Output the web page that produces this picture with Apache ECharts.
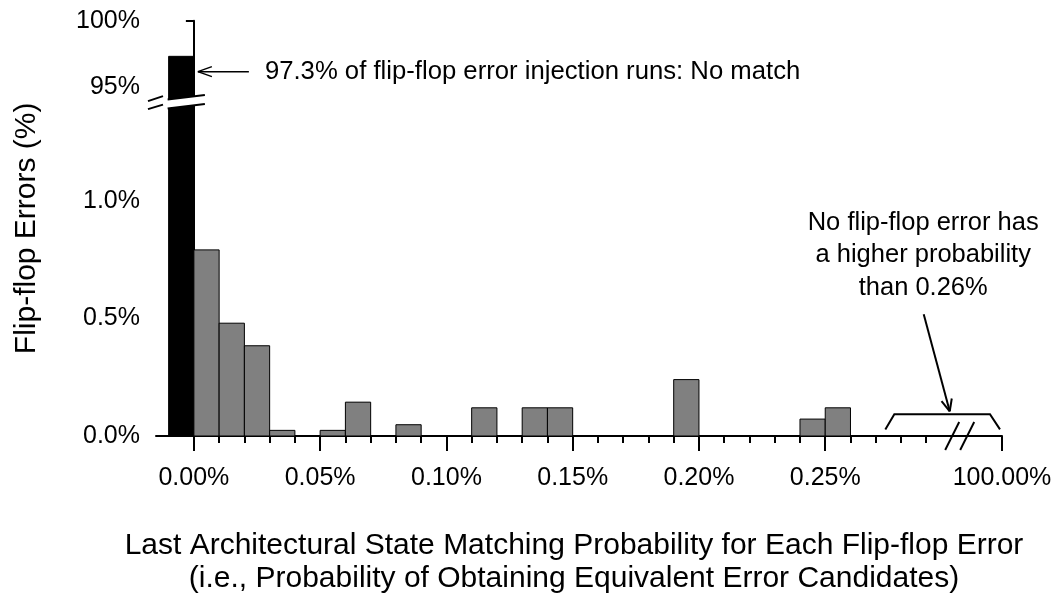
<!DOCTYPE html>
<html><head><meta charset="utf-8">
<script src="https://cdn.jsdelivr.net/npm/echarts@6/dist/echarts.min.js"></script>
<style>html,body{margin:0;padding:0;background:#fff}#c{width:1059px;height:598px}</style>
</head><body><div id="c"></div>
<script>
// ---- data ----
const binWidth = 0.01;                 // each bar covers 0.01 percentage points
const noMatchBins = [-0.01];           // the "No match" bar sits left of 0.00%
const noMatchValues = [97.3];
const binStarts = [0.00,0.01,0.02,0.03,0.04,0.05,0.06,0.07,0.08,0.09,0.10,0.11,0.12,
                   0.13,0.14,0.15,0.16,0.17,0.18,0.19,0.20,0.21,0.22,0.23,0.24,0.25];
const binValues = [0.792,0.48,0.384,0.024,0,0.024,0.144,0,0.048,0,0,0.12,0,
                   0.12,0.12,0,0,0,0,0.24,0,0,0,0,0.072,0.12];
const xMajorTicks  = [0.00,0.05,0.10,0.15,0.20,0.25,0.32];
const xMajorLabels = ['0.00%','0.05%','0.10%','0.15%','0.20%','0.25%','100.00%'];
const xMinorTicks  = [0.00,0.01,0.02,0.03,0.04,0.05,0.06,0.07,0.08,0.09,0.10,0.11,0.12,0.13,0.14,
                      0.15,0.16,0.17,0.18,0.19,0.20,0.21,0.22,0.23,0.24,0.25,0.26,0.27,0.28,0.29];
const yLowTicks  = [0, 0.5, 1.0];
const yLowLabels = ['0.0%','0.5%','1.0%'];
const yHighTicks  = [95, 100];
const yHighLabels = ['95%','100%'];

const FONT = '"Liberation Sans", Arial, Helvetica, sans-serif';
const X_MIN = -0.015, X_MAX = 0.32;

function lookup(ticks, labels, v) {
  for (let i = 0; i < ticks.length; i++) if (Math.abs(ticks[i] - v) < 1e-6) return labels[i];
  return '';
}
function makeRender(fill) {
  return function (params, api) {
    const x0 = api.value(0), v = api.value(1);
    if (!v) return null;
    const p0 = api.coord([x0, 0]);
    const p1 = api.coord([x0 + binWidth, v]);
    const cs = params.coordSys;
    const r = echarts.graphic.clipRectByRect(
      {x: p0[0], y: p1[1], width: p1[0] - p0[0], height: p0[1] - p1[1]},
      {x: cs.x, y: cs.y, width: cs.width, height: cs.height});
    if (!r) return null;
    return {type: 'rect', shape: r, style: {fill: fill, stroke: '#000', lineWidth: 1}};
  };
}
const noMatchData = noMatchBins.map((b, i) => [b, noMatchValues[i]]);
const binData = binStarts.map((b, i) => [b, binValues[i]]);

const axisLineStyle = {color: '#000', width: 2};
const labelStyle = {color: '#000', fontSize: 25, fontFamily: FONT};

const option = {
  animation: false,
  backgroundColor: '#fff',
  grid: [
    {left: 156, right: 57, top: 20.7, height: 79.2},
    {left: 156, right: 57, top: 436 - 1.42 * 235, height: 1.42 * 235}
  ],
  xAxis: [
    {type: 'value', gridIndex: 0, min: X_MIN, max: X_MAX, show: false},
    {type: 'value', gridIndex: 1, min: X_MIN, max: X_MAX,
     axisLine: {show: true, onZero: false, lineStyle: axisLineStyle},
     axisTick: {show: true, length: 7, customValues: xMinorTicks, lineStyle: {color: '#000', width: 2}},
     axisLabel: {show: false}, splitLine: {show: false}},
    {type: 'value', gridIndex: 1, min: X_MIN, max: X_MAX, position: 'bottom',
     axisLine: {show: false},
     axisTick: {show: true, length: 15, customValues: xMajorTicks, lineStyle: {color: '#000', width: 2}},
     axisLabel: Object.assign({show: true, margin: 30, customValues: xMajorTicks,
       formatter: v => lookup(xMajorTicks, xMajorLabels, v)}, labelStyle),
     splitLine: {show: false}}
  ],
  yAxis: [
    {type: 'value', gridIndex: 0, min: 94, max: 100,
     axisLine: {show: true, lineStyle: axisLineStyle},
     axisTick: {show: true, length: 8, customValues: yHighTicks, lineStyle: {color: '#000', width: 2}},
     axisLabel: Object.assign({margin: 16, customValues: yHighTicks,
       formatter: v => lookup(yHighTicks, yHighLabels, v)}, labelStyle),
     splitLine: {show: false}},
    {type: 'value', gridIndex: 1, min: 0, max: 1.42,
     axisLine: {show: true, lineStyle: axisLineStyle},
     axisTick: {show: true, length: 8, customValues: yLowTicks, lineStyle: {color: '#000', width: 2}},
     axisLabel: Object.assign({margin: 16, customValues: yLowTicks,
       formatter: v => lookup(yLowTicks, yLowLabels, v)}, labelStyle),
     splitLine: {show: false}}
  ],
  series: [
    {type: 'custom', xAxisIndex: 0, yAxisIndex: 0, data: noMatchData, renderItem: makeRender('#000'), z: 1},
    {type: 'custom', xAxisIndex: 1, yAxisIndex: 1, data: noMatchData, renderItem: makeRender('#000'), z: 1},
    {type: 'custom', xAxisIndex: 1, yAxisIndex: 1, data: binData, renderItem: makeRender('#808080'), z: 1}
  ]
};

const chart = echarts.init(document.getElementById('c'), null, {renderer: 'canvas'});
chart.setOption(option);

// ---- annotations, anchored to the axes ----
const P = (g, x, y) => chart.convertToPixel({gridIndex: g}, [x, y]);
const axisX = P(1, X_MIN, 0)[0];
const yRef = (P(0, 0, 94)[1] + P(1, 0, 1.42)[1]) / 2;
const barL = P(1, noMatchBins[0], 0)[0];
const barR = P(1, noMatchBins[0] + binWidth, 0)[0];
const black = {stroke: '#000', lineWidth: 2, fill: null};
const g = [];
function line(x1, y1, x2, y2, w) {
  g.push({type: 'line', shape: {x1, y1, x2, y2}, style: {stroke: '#000', lineWidth: w || 2}, z: 100});
}
// y-axis break
const aU = [[axisX - 8, yRef], [axisX + 7, yRef - 5]];
const aD = [[axisX - 8, yRef + 8], [axisX + 7, yRef + 3.5]];
const bU = [[barL - 1, yRef - 1.7], [barR + 11, yRef - 6]];
const bD = [[barL - 1, yRef + 7.3], [barR + 11, yRef + 3]];
g.push({type: 'polygon', shape: {points: [aU[0], aU[1], aD[1], aD[0]]}, style: {fill: '#fff'}, z: 99});
g.push({type: 'polygon', shape: {points: [bU[0], bU[1], bD[1], bD[0]]}, style: {fill: '#fff'}, z: 99});
[aU, aD, bU, bD].forEach(s => line(s[0][0], s[0][1], s[1][0], s[1][1], 2));

// arrow to the No-match bar
const ay = P(0, 0, 96.14)[1];
const tipX = barR + 4;
line(tipX, ay, tipX + 51, ay, 1.5);
line(tipX, ay, tipX + 14, ay - 5, 1.5);
line(tipX, ay, tipX + 14, ay + 5, 1.5);
g.push({type: 'text', x: tipX + 67, y: ay, z: 100,
  style: {text: '97.3% of flip-flop error injection runs: No match', font: '25.7px ' + FONT,
          fill: '#000', textAlign: 'left', textVerticalAlign: 'middle'}});

// x-axis break slashes
const axY = P(1, 0, 0)[1];
const s1 = P(1, 0.2975, 0)[0];
line(s1, axY + 14, s1 + 14, axY - 14, 2);
line(s1 + 15, axY + 14, s1 + 29, axY - 14, 2);

// bracket over the empty range
const bL = P(1, 0.2738, 0)[0], bR = P(1, 0.3192, 0)[0];
const bTop = P(1, 0, 0.093)[1], bBot = P(1, 0, 0.028)[1];
g.push({type: 'polyline', z: 100, shape: {points: [[bL, bBot], [bL + 9, bTop], [bR - 10, bTop], [bR, bBot]]},
  style: black});
// arrow to the bracket
const a2s = P(1, 0.289, 0.518), a2e = P(1, 0.2993, 0.105);
line(a2s[0], a2s[1], a2e[0], a2e[1], 2);
const ang = Math.atan2(a2e[1] - a2s[1], a2e[0] - a2s[0]);
[0.42, -0.42].forEach(d => {
  line(a2e[0], a2e[1], a2e[0] - 13 * Math.cos(ang + d), a2e[1] - 13 * Math.sin(ang + d), 2);
});
const tx = P(1, 0.2888, 0)[0];
const tyc = P(1, 0, 0.77)[1];
g.push({type: 'text', x: tx, y: tyc, z: 100,
  style: {text: 'No flip-flop error has\na higher probability\nthan 0.26%', font: '25.5px ' + FONT,
          lineHeight: 32.5, fill: '#000', textAlign: 'center', textVerticalAlign: 'middle'}});

// axis titles
const yTop = P(0, 0, 100)[1];
g.push({type: 'text', x: 27, y: (yTop + axY) / 2, rotation: Math.PI / 2, z: 100,
  style: {text: 'Flip-flop Errors (%)', font: '30px ' + FONT, fill: '#000',
          textAlign: 'center', textVerticalAlign: 'middle'}});
g.push({type: 'text', x: 574, y: 562, z: 100,
  style: {text: 'Last Architectural State Matching Probability for Each Flip-flop Error\n(i.e., Probability of Obtaining Equivalent Error Candidates)',
          font: '30px ' + FONT, lineHeight: 33, fill: '#000', textAlign: 'center', textVerticalAlign: 'middle'}});

chart.setOption({graphic: {elements: g}});
</script>
</body></html>
